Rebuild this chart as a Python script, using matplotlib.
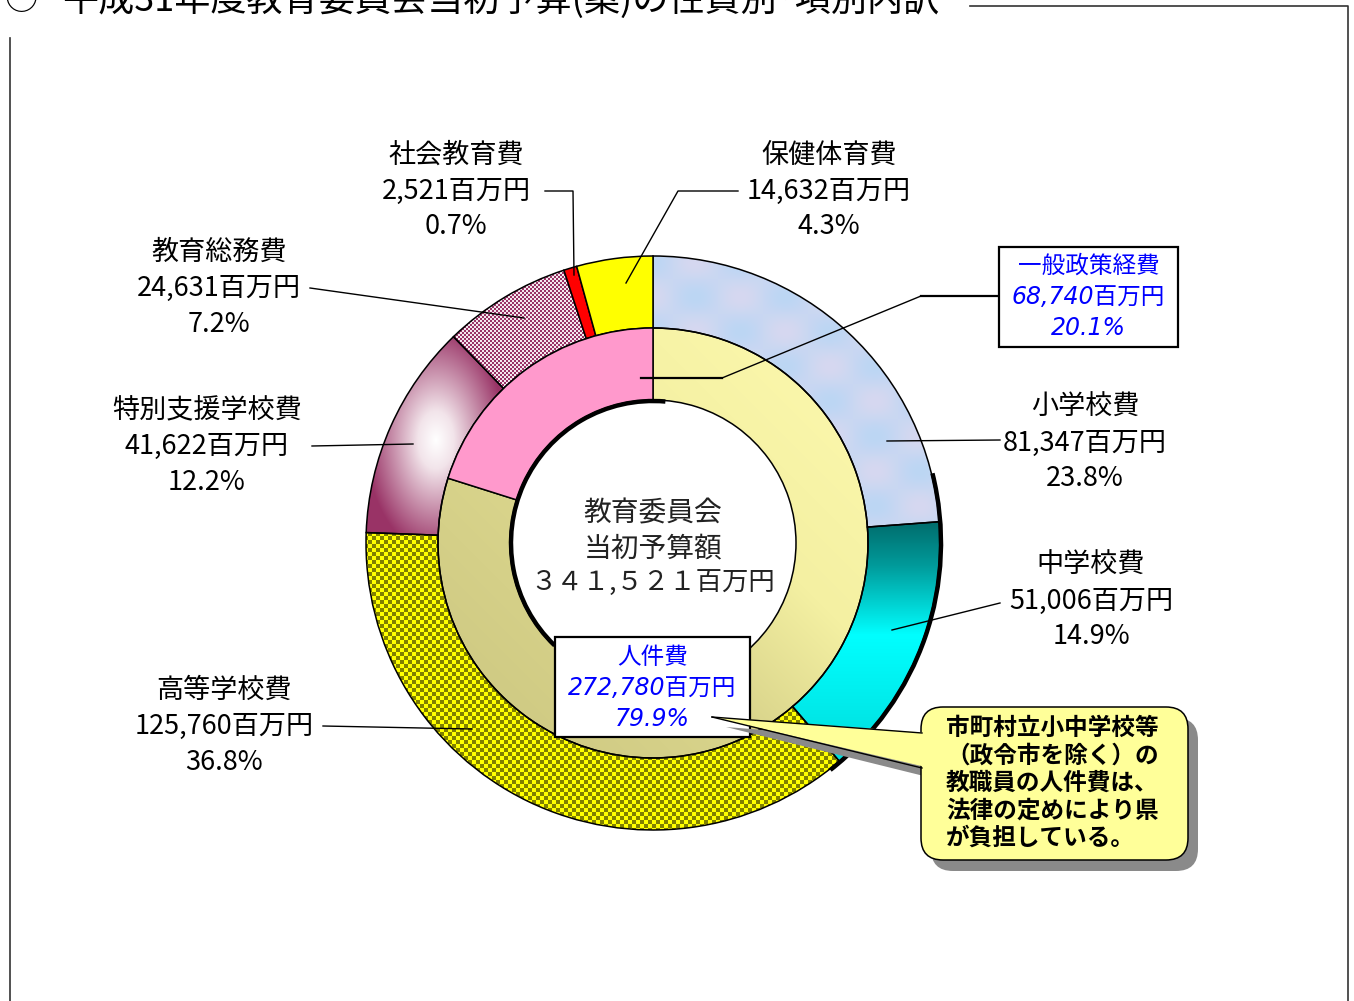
import numpy as np
import matplotlib
matplotlib.use('Agg')
import matplotlib.pyplot as plt
from matplotlib.patches import Rectangle, FancyBboxPatch, Polygon, Arc
from matplotlib.colors import to_rgb

plt.rcParams['font.family'] = ['Noto Sans CJK JP', 'DejaVu Sans']

# ---------------- data ----------------
outer_labels = ['小学校費', '中学校費', '高等学校費', '特別支援学校費', '教育総務費', '社会教育費', '保健体育費']
outer_values = [81347, 51006, 125760, 41622, 24631, 2521, 14632]
outer_pct = ['23.8%', '14.9%', '36.8%', '12.2%', '7.2%', '0.7%', '4.3%']
inner_labels = ['人件費', '一般政策経費']
inner_values = [272780, 68740]
inner_pct = ['79.9%', '20.1%']
center_lines = ['教育委員会', '当初予算額', '３４１,５２１百万円']
title = '平成31年度教育委員会当初予算(案)の性質別･項別内訳'
note_lines = ['市町村立小中学校等', '（政令市を除く）の', '教職員の人件費は、', '法律の定めにより県', 'が負担している。']

W, H = 1354, 1001
fig = plt.figure(figsize=(W / 100, H / 100), dpi=100)
ax = fig.add_axes([0, 0, 1, 1])


def Y(y):
    return H - y


cx, cy = 653, 543
R1, R0, RH = 287, 215, 143
C = (cx, Y(cy))

# ---------------- rings ----------------
outer_colors = ['none', 'none', 'none', 'none', 'none', '#ff0000', '#ffff00']
ow, _ = ax.pie(outer_values, radius=R1, center=C, startangle=90, counterclock=False,
               colors=outer_colors,
               wedgeprops=dict(width=R1 - R0, edgecolor='black', linewidth=1.1))
iw, _ = ax.pie(inner_values, radius=R0, center=C, startangle=90, counterclock=False,
               colors=['none', '#ff99cc'],
               wedgeprops=dict(width=R0 - RH, edgecolor='black', linewidth=1.1))

# texture grid (image pixel coords)
x0, x1, y0, y1 = 360, 946, 250, 836
XI, YI = np.meshgrid(np.arange(x0, x1), np.arange(y0, y1))
XX, YY = XI + 0.5, YI + 0.5


def grad(param, stops, colors):
    cols = np.array([to_rgb(c) for c in colors])
    out = np.zeros(param.shape + (3,))
    for k in range(3):
        out[..., k] = np.interp(param, stops, cols[:, k])
    return out


def pattern(mask, c_on, c_off):
    a = np.array(to_rgb(c_on))
    b = np.array(to_rgb(c_off))
    return np.where(mask[..., None], a, b)


def show(img, clip):
    im = ax.imshow(img, extent=(x0, x1, Y(y1), Y(y0)), origin='upper',
                   interpolation='nearest', aspect='auto', zorder=0.5)
    im.set_clip_path(clip)


# 小学校費 : light blue
show(grad(0.5 + 0.5 * np.sin(XX * 0.07) * np.sin(YY * 0.09), [0, 1], ['#bcd6f4', '#d6d8f0']), ow[0])
# 中学校費 : teal -> cyan gradient
show(grad(YY, [522, 565, 635, 760], ['#006c6c', '#009a9a', '#00ffff', '#00dcdc']), ow[1])
# 高等学校費 : yellow / olive checker
show(pattern(((XI // 4 + YI // 4) % 2) == 0, '#ffff00', '#808000'), ow[2])
# 特別支援学校費 : maroon with white highlight
d = np.sqrt((XX - 436) ** 2 + ((YY - 440) * 0.62) ** 2)
show(grad(d, [0, 18, 70], ['#ffffff', '#f2e4ea', '#993366']), ow[3])
# 教育総務費 : maroon / white fine checker
show(pattern(((XI // 2 + YI // 2) % 2) == 0, '#f4e8ee', '#993366'), ow[4])
# 人件費 : khaki -> light yellow shading
s = ((XX - cx) - (YY - cy)) / (np.sqrt(2) * R0)
show(grad(s, [-1, -0.25, 0.35, 1], ['#d0cb84', '#dad58c', '#f4f0a2', '#faf6aa']), iw[0])

# 3D-like thick edges
ax.add_patch(Arc(C, 2 * (R1 + 1), 2 * (R1 + 1), theta1=-52, theta2=14, lw=3.2, color='black', zorder=2))
ax.add_patch(Arc(C, 2 * (RH - 1), 2 * (RH - 1), theta1=85, theta2=226, lw=3.2, color='black', zorder=2))

# ---------------- leader lines ----------------
lk = dict(color='black', lw=1.0, zorder=3)


def line(pts, **kw):
    xs = [p[0] for p in pts]
    ys = [Y(p[1]) for p in pts]
    ax.plot(xs, ys, **{**lk, **kw})


line([(545, 191), (573, 191), (574, 275)])
line([(738, 191), (678, 191), (626, 283)])
line([(310, 288), (524, 318)])
line([(312, 446), (413, 444)])
line([(323, 726), (472, 729)])
line([(1000, 440), (887, 441)])
line([(1000, 603), (892, 630)])
line([(999, 296), (921, 296)], lw=1.6)
line([(921, 296), (722, 378)])
line([(722, 378), (641, 378)], lw=1.6)

# ---------------- category labels ----------------
FS = 19.5


def label(x, y, lines, dy=36, **kw):
    for i, t in enumerate(lines):
        ax.text(x, Y(y + i * dy), t, ha='center', va='center', **kw)


label_pos = [(1085, 407), (1091, 565), (224, 690), (207, 410), (219, 252), (456, 155), (829, 155)]
for name, v, p, (lx, ly) in zip(outer_labels, outer_values, outer_pct, label_pos):
    label(lx, ly, [name, f'{v:,}百万円', p], fontsize=FS, color='black', zorder=4)

# center text
ax.text(cx, Y(513), center_lines[0], ha='center', va='center', fontsize=20, color='#222222')
ax.text(cx, Y(548), center_lines[1], ha='center', va='center', fontsize=20, color='#222222')
ax.text(cx, Y(583), center_lines[2], ha='center', va='center', fontsize=19, color='#222222')


# ---------------- blue boxes ----------------
def blue_box(bx0, by0, bx1, by1, lines, ty):
    ax.add_patch(Rectangle((bx0, Y(by1)), bx1 - bx0, by1 - by0, facecolor='white',
                           edgecolor='black', lw=1.6, zorder=5))
    for i, t in enumerate(lines):
        ax.text((bx0 + bx1) / 2, Y(ty + i * 31), t, ha='center', va='center', fontsize=17,
                color='#0000ff', style='italic', family=['DejaVu Sans', 'Noto Sans CJK JP'],
                zorder=6)


blue_box(999, 247, 1178, 347, [inner_labels[1], f'{inner_values[1]:,}百万円', inner_pct[1]], 266)
blue_box(555, 637, 750, 737, [inner_labels[0], f'{inner_values[0]:,}百万円', inner_pct[0]], 657)

# ---------------- callout ----------------
tip = (712, 717)
sh = (10, 11)
ax.add_patch(FancyBboxPatch((921 + sh[0], Y(860 + sh[1])), 267, 153,
                            boxstyle='round,pad=0,rounding_size=22', facecolor='#8a8a8a',
                            edgecolor='none', zorder=6))
ax.add_patch(Polygon([(tip[0] + 14, Y(tip[1] + 10)), (940, Y(744)), (940, Y(780))],
                     closed=True, facecolor='#8a8a8a', edgecolor='none', zorder=6))
ax.add_patch(FancyBboxPatch((921, Y(860)), 267, 153,
                            boxstyle='round,pad=0,rounding_size=22', facecolor='#ffff99',
                            edgecolor='black', lw=1.1, zorder=7))
ax.add_patch(Polygon([(tip[0], Y(tip[1])), (930, Y(733)), (930, Y(768))],
                     closed=True, facecolor='#ffff99', edgecolor='none', zorder=8))
line([tip, (922, 733)], zorder=9)
line([tip, (922, 768)], zorder=9)
for i, t in enumerate(note_lines):
    ax.text(946, Y(728 + i * 27.5), t, ha='left', va='center', fontsize=17,
            fontweight='bold', color='black', zorder=10)

# ---------------- title & frame ----------------
ax.text(4, Y(0), '○', ha='left', va='center', fontsize=24, color='black')
ax.text(62, Y(0), title, ha='left', va='center', fontsize=26, color='black')
line([(10, 38), (10, 1001)], color='#333333', lw=1.2)
line([(970, 6), (1348, 6), (1348, 1001)], color='#333333', lw=1.2)

ax.set_xlim(0, W)
ax.set_ylim(0, H)
ax.set_aspect('auto')
ax.axis('off')
fig.savefig('out.png', dpi=100, facecolor='white')
